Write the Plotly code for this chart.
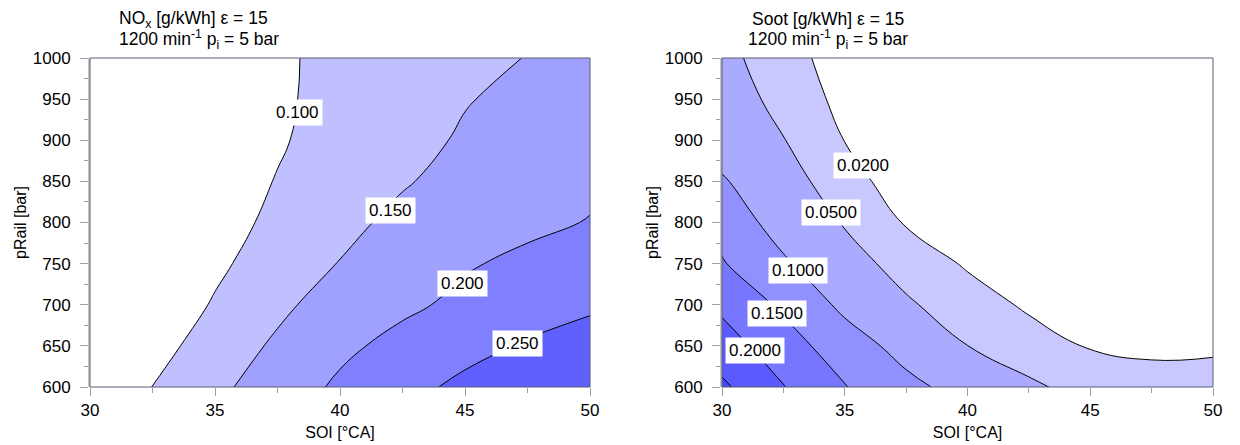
import plotly.graph_objects as go

# ---------------- data ----------------
soi = [30, 32.5, 35, 37.5, 40, 42.5, 45, 47.5, 50]            # SOI [°CA]
prail = [600, 650, 700, 750, 800, 850, 900, 950, 1000]        # pRail [bar]

# NOx [g/kWh], rows = prail, cols = soi
nox = [
    [0.065, 0.1005, 0.139, 0.175, 0.2076, 0.2348, 0.261, 0.275, 0.284],
    [0.060, 0.083, 0.121, 0.158, 0.190, 0.214, 0.2346, 0.255, 0.268],
    [0.055, 0.069, 0.104, 0.139, 0.1734, 0.191, 0.2105, 0.227, 0.2435],
    [0.050, 0.061, 0.0915, 0.122, 0.1518, 0.1737, 0.1956, 0.210, 0.223],
    [0.045, 0.056, 0.083, 0.1096, 0.136, 0.1629, 0.177, 0.190, 0.202],
    [0.045, 0.058, 0.080, 0.1018, 0.1237, 0.1456, 0.1676, 0.179, 0.191],
    [0.045, 0.055, 0.0754, 0.0959, 0.1164, 0.137, 0.1547, 0.1679, 0.181],
    [0.045, 0.0586, 0.0764, 0.0943, 0.112, 0.130, 0.1479, 0.1598, 0.171],
    [0.050, 0.0665, 0.0807, 0.0949, 0.1091, 0.1233, 0.1375, 0.1513, 0.162],
]

# Soot [g/kWh]
soot = [
    [0.259, 0.202, 0.152, 0.1125, 0.0819, 0.0553, 0.039, 0.031, 0.026],
    [0.222, 0.172, 0.1235, 0.0829, 0.0502, 0.0337, 0.0179, 0.0143, 0.0177],
    [0.190, 0.141, 0.089, 0.054, 0.0346, 0.0154, 0.013, 0.0105, 0.011],
    [0.1537, 0.1073, 0.0619, 0.039, 0.0164, 0.013, 0.0105, 0.009, 0.0085],
    [0.133, 0.0776, 0.0476, 0.0176, 0.013, 0.0105, 0.009, 0.008, 0.0075],
    [0.104, 0.070, 0.0247, 0.014, 0.011, 0.009, 0.008, 0.007, 0.0065],
    [0.082, 0.0513, 0.0197, 0.013, 0.010, 0.0085, 0.0075, 0.0065, 0.006],
    [0.072, 0.0375, 0.0125, 0.0105, 0.009, 0.008, 0.007, 0.006, 0.0055],
    [0.062, 0.0277, 0.011, 0.0095, 0.0085, 0.0075, 0.0065, 0.0058, 0.005],
]

nox_levels = [0.10, 0.15, 0.20, 0.25]
nox_labels = ["0.100", "0.150", "0.200", "0.250"]
soot_levels = [0.02, 0.05, 0.10, 0.15, 0.20, 0.25]
soot_labels = ["0.0200", "0.0500", "0.1000", "0.1500", "0.2000", None]

# label anchor points (data coords) for the contour labels
nox_label_pos = [(38.3, 934), (42.0, 815), (44.9, 726), (47.1, 653)]
soot_label_pos = [(35.75, 869), (34.45, 812), (33.1, 742), (32.25, 689), (31.35, 644), None]

# ---------------- style ----------------
nox_colors = ["#c0c0ff", "#a0a0ff", "#8080ff", "#6060ff"]
soot_colors = ["#c8c8ff", "#aaaaff", "#9090ff", "#7676ff", "#5a5aff", "#4646ff"]
FONT = "Liberation Sans, Arial, sans-serif"
W, H = 1240, 445

fig = go.Figure()


def add_map(z, levels, colors, xa, ya):
    # constraint contours shade the region that violates the constraint,
    # so "<" shades where z >= level
    for lev, col in zip(levels, colors):
        fig.add_trace(go.Contour(
            x=soi, y=prail, z=z,
            contours=dict(type="constraint", operation="<", value=lev),
            fillcolor=col,
            line=dict(color="black", width=1, smoothing=1.3),
            showscale=False, showlegend=False, hoverinfo="skip",
            xaxis=xa, yaxis=ya,
        ))


add_map(nox, nox_levels, nox_colors, "x", "y")
add_map(soot, soot_levels, soot_colors, "x2", "y2")

lab_font = dict(family=FONT, size=17, color="black")
annotations = []
for txt, pos in zip(nox_labels, nox_label_pos):
    if txt and pos:
        annotations.append(dict(x=pos[0], y=pos[1], xref="x", yref="y", text=txt,
                                showarrow=False, bgcolor="white", borderpad=3,
                                font=lab_font))
for txt, pos in zip(soot_labels, soot_label_pos):
    if txt and pos:
        annotations.append(dict(x=pos[0], y=pos[1], xref="x2", yref="y2", text=txt,
                                showarrow=False, bgcolor="white", borderpad=3,
                                font=lab_font))

title_font = dict(family=FONT, size=17.5, color="black")
titles = [
    (117, "left", ["NO<sub>x</sub> [g/kWh] ε = 15", "1200 min<sup>-1</sup> p<sub>i</sub> = 5 bar"]),
    (828, "center", ["Soot [g/kWh] ε = 15", "1200 min<sup>-1</sup> p<sub>i</sub> = 5 bar"]),
]
for xpx, anchor, lines in titles:
    for ypx, line in zip([19, 39], lines):
        annotations.append(dict(
            x=xpx / W, y=1 - ypx / H, xref="paper", yref="paper",
            xanchor=anchor, yanchor="middle", showarrow=False,
            text=line, font=title_font))

ydom = [(H - 387) / H, (H - 58) / H]
x1dom = [90 / W, 590 / W]
x2dom = [722 / W, 1213 / W]

tick_font = dict(family=FONT, size=17, color="black")
axt_font = dict(family=FONT, size=16, color="black")
xcommon = dict(range=[30, 50], tick0=30, dtick=5, ticks="outside", ticklen=8,
               tickcolor="#a0a0a0", tickwidth=1, showgrid=False, zeroline=False,
               showline=False, tickfont=tick_font,
               minor=dict(dtick=2.5, ticks="outside", ticklen=5, tickcolor="#a0a0a0"),
               title=dict(text="SOI [°CA]", font=axt_font, standoff=7),
               automargin=False)
ycommon = dict(range=[600, 1000], tick0=600, dtick=50, ticks="outside", ticklen=8,
               tickcolor="#a0a0a0", tickwidth=1, showgrid=False, zeroline=False,
               showline=True, linecolor="#c4c4c4", linewidth=2,
               tickfont=tick_font,
               minor=dict(dtick=25, ticks="outside", ticklen=4, tickcolor="#a0a0a0"),
               title=dict(text="pRail [bar]", font=axt_font, standoff=2),
               ticklabelstandoff=6,
               automargin=False)

fig.update_layout(
    width=W, height=H,
    margin=dict(l=0, r=0, t=0, b=0),
    paper_bgcolor="white", plot_bgcolor="white",
    xaxis=dict(domain=x1dom, anchor="y", **xcommon),
    yaxis=dict(domain=ydom, anchor="x", **ycommon),
    xaxis2=dict(domain=x2dom, anchor="y2", **xcommon),
    yaxis2=dict(domain=ydom, anchor="x2", **ycommon),
    annotations=annotations,
    shapes=[
        dict(type="rect", xref="x domain", yref="y domain", x0=0, x1=1, y0=0, y1=1,
             line=dict(color="#5a5a78", width=1), layer="above"),
        dict(type="rect", xref="x2 domain", yref="y2 domain", x0=0, x1=1, y0=0, y1=1,
             line=dict(color="#5a5a78", width=1), layer="above"),
    ],
)

fig.write_html("out.html", config={"displayModeBar": False},
               post_script="document.body.style.margin='0';document.body.style.padding='0';")
